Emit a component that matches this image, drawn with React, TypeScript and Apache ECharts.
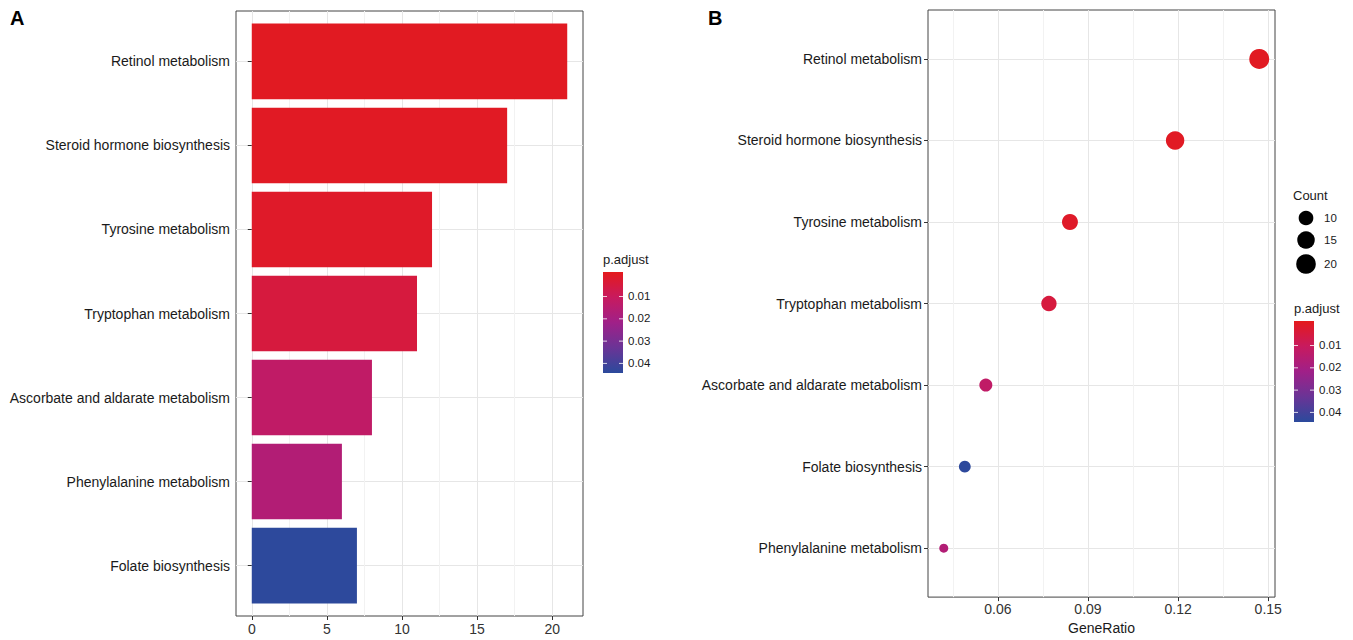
import React, { useEffect, useRef } from 'react';
import * as echarts from 'echarts';

// ---- data ----
const barCategories = [
  'Retinol metabolism',
  'Steroid hormone biosynthesis',
  'Tyrosine metabolism',
  'Tryptophan metabolism',
  'Ascorbate and aldarate metabolism',
  'Phenylalanine metabolism',
  'Folate biosynthesis',
];
const barCounts = [21, 17, 12, 11, 8, 6, 7];
const barPadj = [0.0001, 0.0003, 0.0012, 0.0048, 0.0125, 0.0165, 0.044];

const dotCategories = [
  'Retinol metabolism',
  'Steroid hormone biosynthesis',
  'Tyrosine metabolism',
  'Tryptophan metabolism',
  'Ascorbate and aldarate metabolism',
  'Folate biosynthesis',
  'Phenylalanine metabolism',
];
const dotGeneRatio = [0.147, 0.119, 0.084, 0.077, 0.056, 0.049, 0.042];
const dotCounts = [21, 17, 12, 11, 8, 7, 6];
const dotPadj = [0.0001, 0.0003, 0.0012, 0.0048, 0.0125, 0.044, 0.0165];

const padjTicks = [0.01, 0.02, 0.03, 0.04];
const countLegendValues = [10, 15, 20];
const barXTicks = [0, 5, 10, 15, 20];
const barXMinor = [2.5, 7.5, 12.5, 17.5];
const ratioTicks = [0.06, 0.09, 0.12, 0.15];
const ratioMinor = [0.045, 0.075, 0.105, 0.135];
const catPositions = [1, 2, 3, 4, 5, 6, 7];

// ---- styling ----
const PADJ_MIN = -0.001;
const PADJ_MAX = 0.0443;
const COLORS = ['#E41A1C', '#C81A5E', '#A02088', '#6A3496', '#2B4A9C'];
const FONT = 'Liberation Sans, Arial, sans-serif';
const TXT = '#1a1a1a';
const MAJOR = '#E6E6E6';
const MINOR = '#F2F2F2';

const cMin = Math.min(...dotCounts);
const cMax = Math.max(...dotCounts);
const sizeFor = (c: number) => 9 + 11 * Math.sqrt(Math.max(0, (c - cMin) / (cMax - cMin)));

function colorbar(x: number, top: number, title: string, titleY: number) {
  const h = 101;
  const w = 20;
  const els: any[] = [];
  els.push({
    type: 'text',
    left: x,
    top: titleY - 8,
    style: { text: title, fontSize: 13, fontFamily: FONT, fill: TXT },
  });
  els.push({
    type: 'rect',
    shape: { x, y: top, width: w, height: h },
    style: {
      fill: new echarts.graphic.LinearGradient(
        0, 0, 0, 1,
        COLORS.map((c, i) => ({ offset: i / (COLORS.length - 1), color: c }))
      ),
    },
  });
  padjTicks.forEach((v) => {
    const y = top + ((v - PADJ_MIN) / (PADJ_MAX - PADJ_MIN)) * h;
    els.push({ type: 'line', shape: { x1: x, y1: y, x2: x + 4, y2: y }, style: { stroke: 'rgba(255,255,255,0.8)', lineWidth: 1 } });
    els.push({ type: 'line', shape: { x1: x + w - 4, y1: y, x2: x + w, y2: y }, style: { stroke: 'rgba(255,255,255,0.8)', lineWidth: 1 } });
    els.push({
      type: 'text',
      left: x + w + 5,
      top: y - 6.5,
      style: { text: v.toFixed(2), fontSize: 11.5, fontFamily: FONT, fill: TXT },
    });
  });
  return els;
}

function yAxisFor(gridIndex: number, cats: string[]) {
  return {
    type: 'value',
    gridIndex,
    min: 0.4,
    max: 7.6,
    inverse: true,
    axisLine: { show: false },
    axisTick: { show: true, customValues: catPositions, length: 4, lineStyle: { color: '#333' } },
    axisLabel: {
      customValues: catPositions,
      formatter: (v: number) => cats[Math.round(v) - 1] ?? '',
      fontSize: 14,
      fontFamily: FONT,
      color: TXT,
      margin: 6,
    },
    splitLine: { show: true, lineStyle: { color: MAJOR, width: 1 } },
  };
}

function minorAxis(gridIndex: number, min: number, max: number, vals: number[]) {
  return {
    type: 'value',
    gridIndex,
    min,
    max,
    position: 'top',
    axisLine: { show: false },
    axisTick: { show: false, customValues: vals },
    axisLabel: { show: false, customValues: vals },
    splitLine: { show: true, lineStyle: { color: MINOR, width: 1 } },
  };
}

export default function App() {
  const ref = useRef<HTMLDivElement>(null);
  useEffect(() => {
    document.body.style.margin = '0';
    if (!ref.current) return;
    const chart = echarts.init(ref.current, undefined, { renderer: 'svg' });

    const graphics: any[] = [
      { type: 'text', left: 10, top: 8, style: { text: 'A', fontSize: 20, fontWeight: 'bold', fontFamily: FONT, fill: '#000' } },
      { type: 'text', left: 708, top: 8, style: { text: 'B', fontSize: 20, fontWeight: 'bold', fontFamily: FONT, fill: '#000' } },
      ...colorbar(603, 272, 'p.adjust', 261),
      { type: 'text', left: 1293, top: 189, style: { text: 'Count', fontSize: 13, fontFamily: FONT, fill: TXT } },
      ...colorbar(1294, 321, 'p.adjust', 310),
    ];
    const legendYs = [218, 240, 264];
    countLegendValues.forEach((c, i) => {
      graphics.push({ type: 'circle', shape: { cx: 1306, cy: legendYs[i], r: sizeFor(c) / 2 }, style: { fill: '#000' } });
      graphics.push({ type: 'text', left: 1324, top: legendYs[i] - 6.5, style: { text: String(c), fontSize: 11.5, fontFamily: FONT, fill: TXT } });
    });

    chart.setOption({
      animation: false,
      backgroundColor: '#fff',
      grid: [
        { left: 236, top: 11, width: 347, height: 605, show: true, borderColor: '#444', borderWidth: 1, backgroundColor: 'transparent' },
        { left: 928, top: 10, width: 347, height: 592, show: true, borderColor: '#444', borderWidth: 1, backgroundColor: 'transparent' },
      ],
      xAxis: [
        {
          type: 'value',
          gridIndex: 0,
          min: -1.05,
          max: 22.05,
          axisLine: { show: false },
          axisTick: { show: true, customValues: barXTicks, length: 4, lineStyle: { color: '#333' } },
          axisLabel: { customValues: barXTicks, fontSize: 14, fontFamily: FONT, color: '#333', margin: 6 },
          splitLine: { show: true, lineStyle: { color: MAJOR, width: 1 } },
        },
        minorAxis(0, -1.05, 22.05, barXMinor),
        {
          type: 'value',
          gridIndex: 1,
          min: 0.03675,
          max: 0.15225,
          name: 'GeneRatio',
          nameLocation: 'middle',
          nameGap: 23,
          nameTextStyle: { fontSize: 14, fontFamily: FONT, color: TXT },
          axisLine: { show: false },
          axisTick: { show: true, customValues: ratioTicks, length: 4, lineStyle: { color: '#333' } },
          axisLabel: {
            customValues: ratioTicks,
            formatter: (v: number) => v.toFixed(2),
            fontSize: 14,
            fontFamily: FONT,
            color: '#333',
            margin: 5,
          },
          splitLine: { show: true, lineStyle: { color: MAJOR, width: 1 } },
        },
        minorAxis(1, 0.03675, 0.15225, ratioMinor),
      ],
      yAxis: [yAxisFor(0, barCategories), yAxisFor(1, dotCategories)],
      visualMap: [
        { type: 'continuous', show: false, seriesIndex: 0, dimension: 2, min: PADJ_MIN, max: PADJ_MAX, inRange: { color: COLORS } },
        { type: 'continuous', show: false, seriesIndex: 1, dimension: 3, min: PADJ_MIN, max: PADJ_MAX, inRange: { color: COLORS } },
      ],
      series: [
        {
          type: 'custom',
          xAxisIndex: 0,
          yAxisIndex: 0,
          encode: { x: 0, y: 1 },
          data: barCounts.map((c, i) => [c, i + 1, barPadj[i]]),
          renderItem: (_params: any, api: any) => {
            const v = api.value(0);
            const y = api.value(1);
            const a = api.coord([0, y - 0.45]);
            const b = api.coord([v, y + 0.45]);
            return {
              type: 'rect',
              shape: {
                x: a[0],
                y: Math.min(a[1], b[1]),
                width: b[0] - a[0],
                height: Math.abs(b[1] - a[1]),
              },
              style: { fill: api.visual('color') },
            };
          },
          z: 3,
        },
        {
          type: 'scatter',
          xAxisIndex: 2,
          yAxisIndex: 1,
          data: dotGeneRatio.map((r, i) => [r, i + 1, dotCounts[i], dotPadj[i]]),
          symbolSize: (v: number[]) => sizeFor(v[2]),
          itemStyle: { opacity: 1 },
          z: 3,
        },
      ],
      graphic: graphics,
    });
    return () => chart.dispose();
  }, []);
  return <div ref={ref} style={{ width: 1353, height: 640 }} />;
}
